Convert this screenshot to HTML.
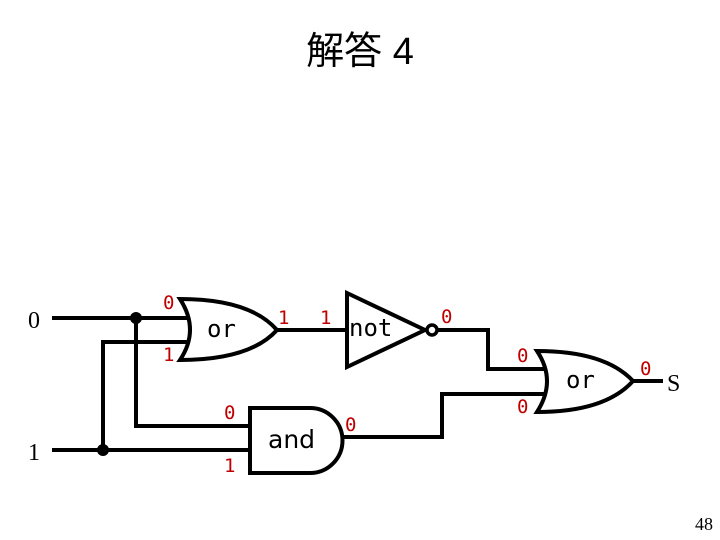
<!DOCTYPE html>
<html><head><meta charset="utf-8"><style>
html,body{margin:0;padding:0;background:#fff;}
svg{display:block;}
.r{fill:#c00000;font-family:"DejaVu Sans Mono","Liberation Mono",monospace;font-size:19px;}
.g{fill:#000;font-family:"DejaVu Sans Mono","Liberation Mono",monospace;font-size:24px;}
.s{fill:#000;font-family:"Liberation Serif",serif;}
</style></head><body>
<svg width="720" height="540" viewBox="0 0 720 540" xmlns="http://www.w3.org/2000/svg">
<text x="360" y="64" text-anchor="middle" font-size="38" font-family="'Liberation Sans','Noto Sans CJK JP',sans-serif">解答 4</text>
<g stroke="#000" stroke-width="4" fill="none">
<path d="M52 318H190"/>
<path d="M103 450V342H190"/>
<path d="M52 450H250"/>
<path d="M136 318V426H250"/>
<path d="M180 299Q250 299 277 330Q250 360 180 360Q200 330 180 299Z" fill="#fff"/>
<path d="M277 330H347"/>
<path d="M347 293L425 330L347 367Z" fill="#fff"/>
<circle cx="432" cy="330" r="5" fill="#fff" stroke-width="3.5"/>
<path d="M437 330H488V369H548"/>
<path d="M250 408H310A32 32 0 0 1 310 473H250Z" fill="#fff"/>
<path d="M342 437H442V394H548"/>
<path d="M537 351Q605 351 633 381Q605 412 537 412Q557 381 537 351Z" fill="#fff"/>
<path d="M633 381H663"/>
</g>
<circle cx="136" cy="318" r="6"/>
<circle cx="103" cy="450" r="6"/>
<text class="s" x="28" y="328" font-size="24">0</text>
<text class="s" x="28" y="460" font-size="24">1</text>
<text class="s" x="667" y="391" font-size="24">S</text>
<text class="s" x="713" y="530" font-size="18" text-anchor="end">48</text>
<text class="g" x="207" y="337">or</text>
<text class="g" x="349" y="336">not</text>
<text class="g" x="566" y="388">or</text>
<text x="268" y="448" font-size="25" font-family="'DejaVu Sans',sans-serif">and</text>
<text class="r" x="163" y="309">0</text>
<text class="r" x="163" y="361">1</text>
<text class="r" x="278" y="324">1</text>
<text class="r" x="320" y="324">1</text>
<text class="r" x="441" y="323">0</text>
<text class="r" x="517" y="362">0</text>
<text class="r" x="517" y="413">0</text>
<text class="r" x="640" y="375">0</text>
<text class="r" x="224" y="419">0</text>
<text class="r" x="224" y="472">1</text>
<text class="r" x="345" y="431">0</text>
</svg>
</body></html>
